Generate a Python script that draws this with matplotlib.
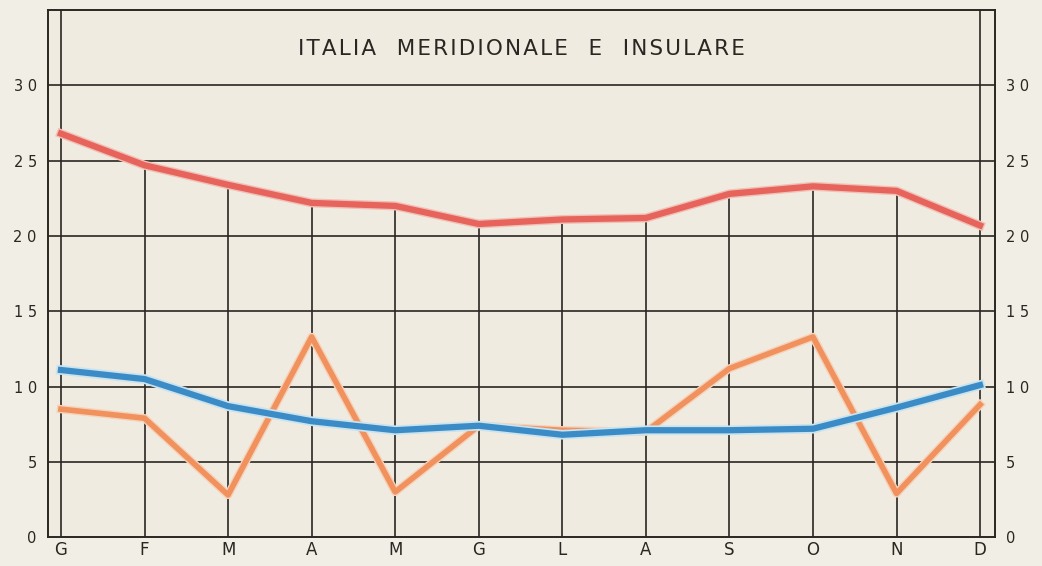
import matplotlib.pyplot as plt
import matplotlib.patheffects as pe

months = ['G', 'F', 'M', 'A', 'M', 'G', 'L', 'A', 'S', 'O', 'N', 'D']
red_vals = [26.8, 24.7, 23.4, 22.2, 22.0, 20.8, 21.1, 21.2, 22.8, 23.3, 23.0, 20.7]
blue_vals = [11.1, 10.5, 8.7, 7.7, 7.1, 7.4, 6.8, 7.1, 7.1, 7.2, 8.6, 10.1]
orange_vals = [8.5, 7.9, 2.8, 13.3, 3.0, 7.4, 7.1, 7.0, 11.2, 13.3, 2.9, 8.8]
y_ticks = [0, 5, 10, 15, 20, 25, 30]
title_words = ['ITALIA', 'MERIDIONALE', 'E', 'INSULARE']

bg = '#efebe1'
ink = '#2a2622'

fig = plt.figure(figsize=(10.42, 5.66), dpi=100, facecolor='#f1eee5')
ax = fig.add_axes([0.046, 0.051, 0.909, 0.931])
ax.set_facecolor(bg)

x = list(range(len(months)))
ax.set_xlim(-0.156, 11.18)
ax.set_ylim(0, 35)

# horizontal grid
for v in y_ticks[1:]:
    ax.axhline(v, color=ink, lw=1.2, zorder=1)
# vertical grid: stop under the top curve, except first and last
for i, xi in enumerate(x):
    top = 35 if i in (0, len(x) - 1) else red_vals[i]
    ax.vlines(xi, 0, top, color=ink, lw=1.2, zorder=1)

ax.plot(x, orange_vals, color='#f0915e', lw=4, zorder=3,
        path_effects=[pe.Stroke(linewidth=6, foreground='#f6d2b8'), pe.Normal()])
ax.plot(x, blue_vals, color='#3b8cc6', lw=4.5, zorder=4,
        path_effects=[pe.Stroke(linewidth=7, foreground='#c9e3ef'), pe.Normal()])
ax.plot(x, red_vals, color='#e6645c', lw=4.5, zorder=5,
        path_effects=[pe.Stroke(linewidth=6.5, foreground='#f2c0b6'), pe.Normal()])

for s in ax.spines.values():
    s.set_color(ink)
    s.set_linewidth(1.4)

ax.set_xticks(x)
ax.set_xticklabels(months, fontsize=12, color=ink)
ax.set_yticks(y_ticks)
ax.set_yticklabels([' '.join(str(v)) for v in y_ticks],
                   fontsize=10.5, color=ink, fontweight='medium')
ax.tick_params(axis='both', length=0, pad=8)
ax.tick_params(axis='x', pad=3)
ax.tick_params(axis='y', labelright=True, right=False)

# slightly letter-spaced title
title = '   '.join('\u200a'.join(w) for w in title_words)
ax.text(0.5, 0.927, title, transform=ax.transAxes,
        ha='center', va='center', fontsize=15.5, color=ink)

fig.savefig('out.png', dpi=100, facecolor=fig.get_facecolor())
